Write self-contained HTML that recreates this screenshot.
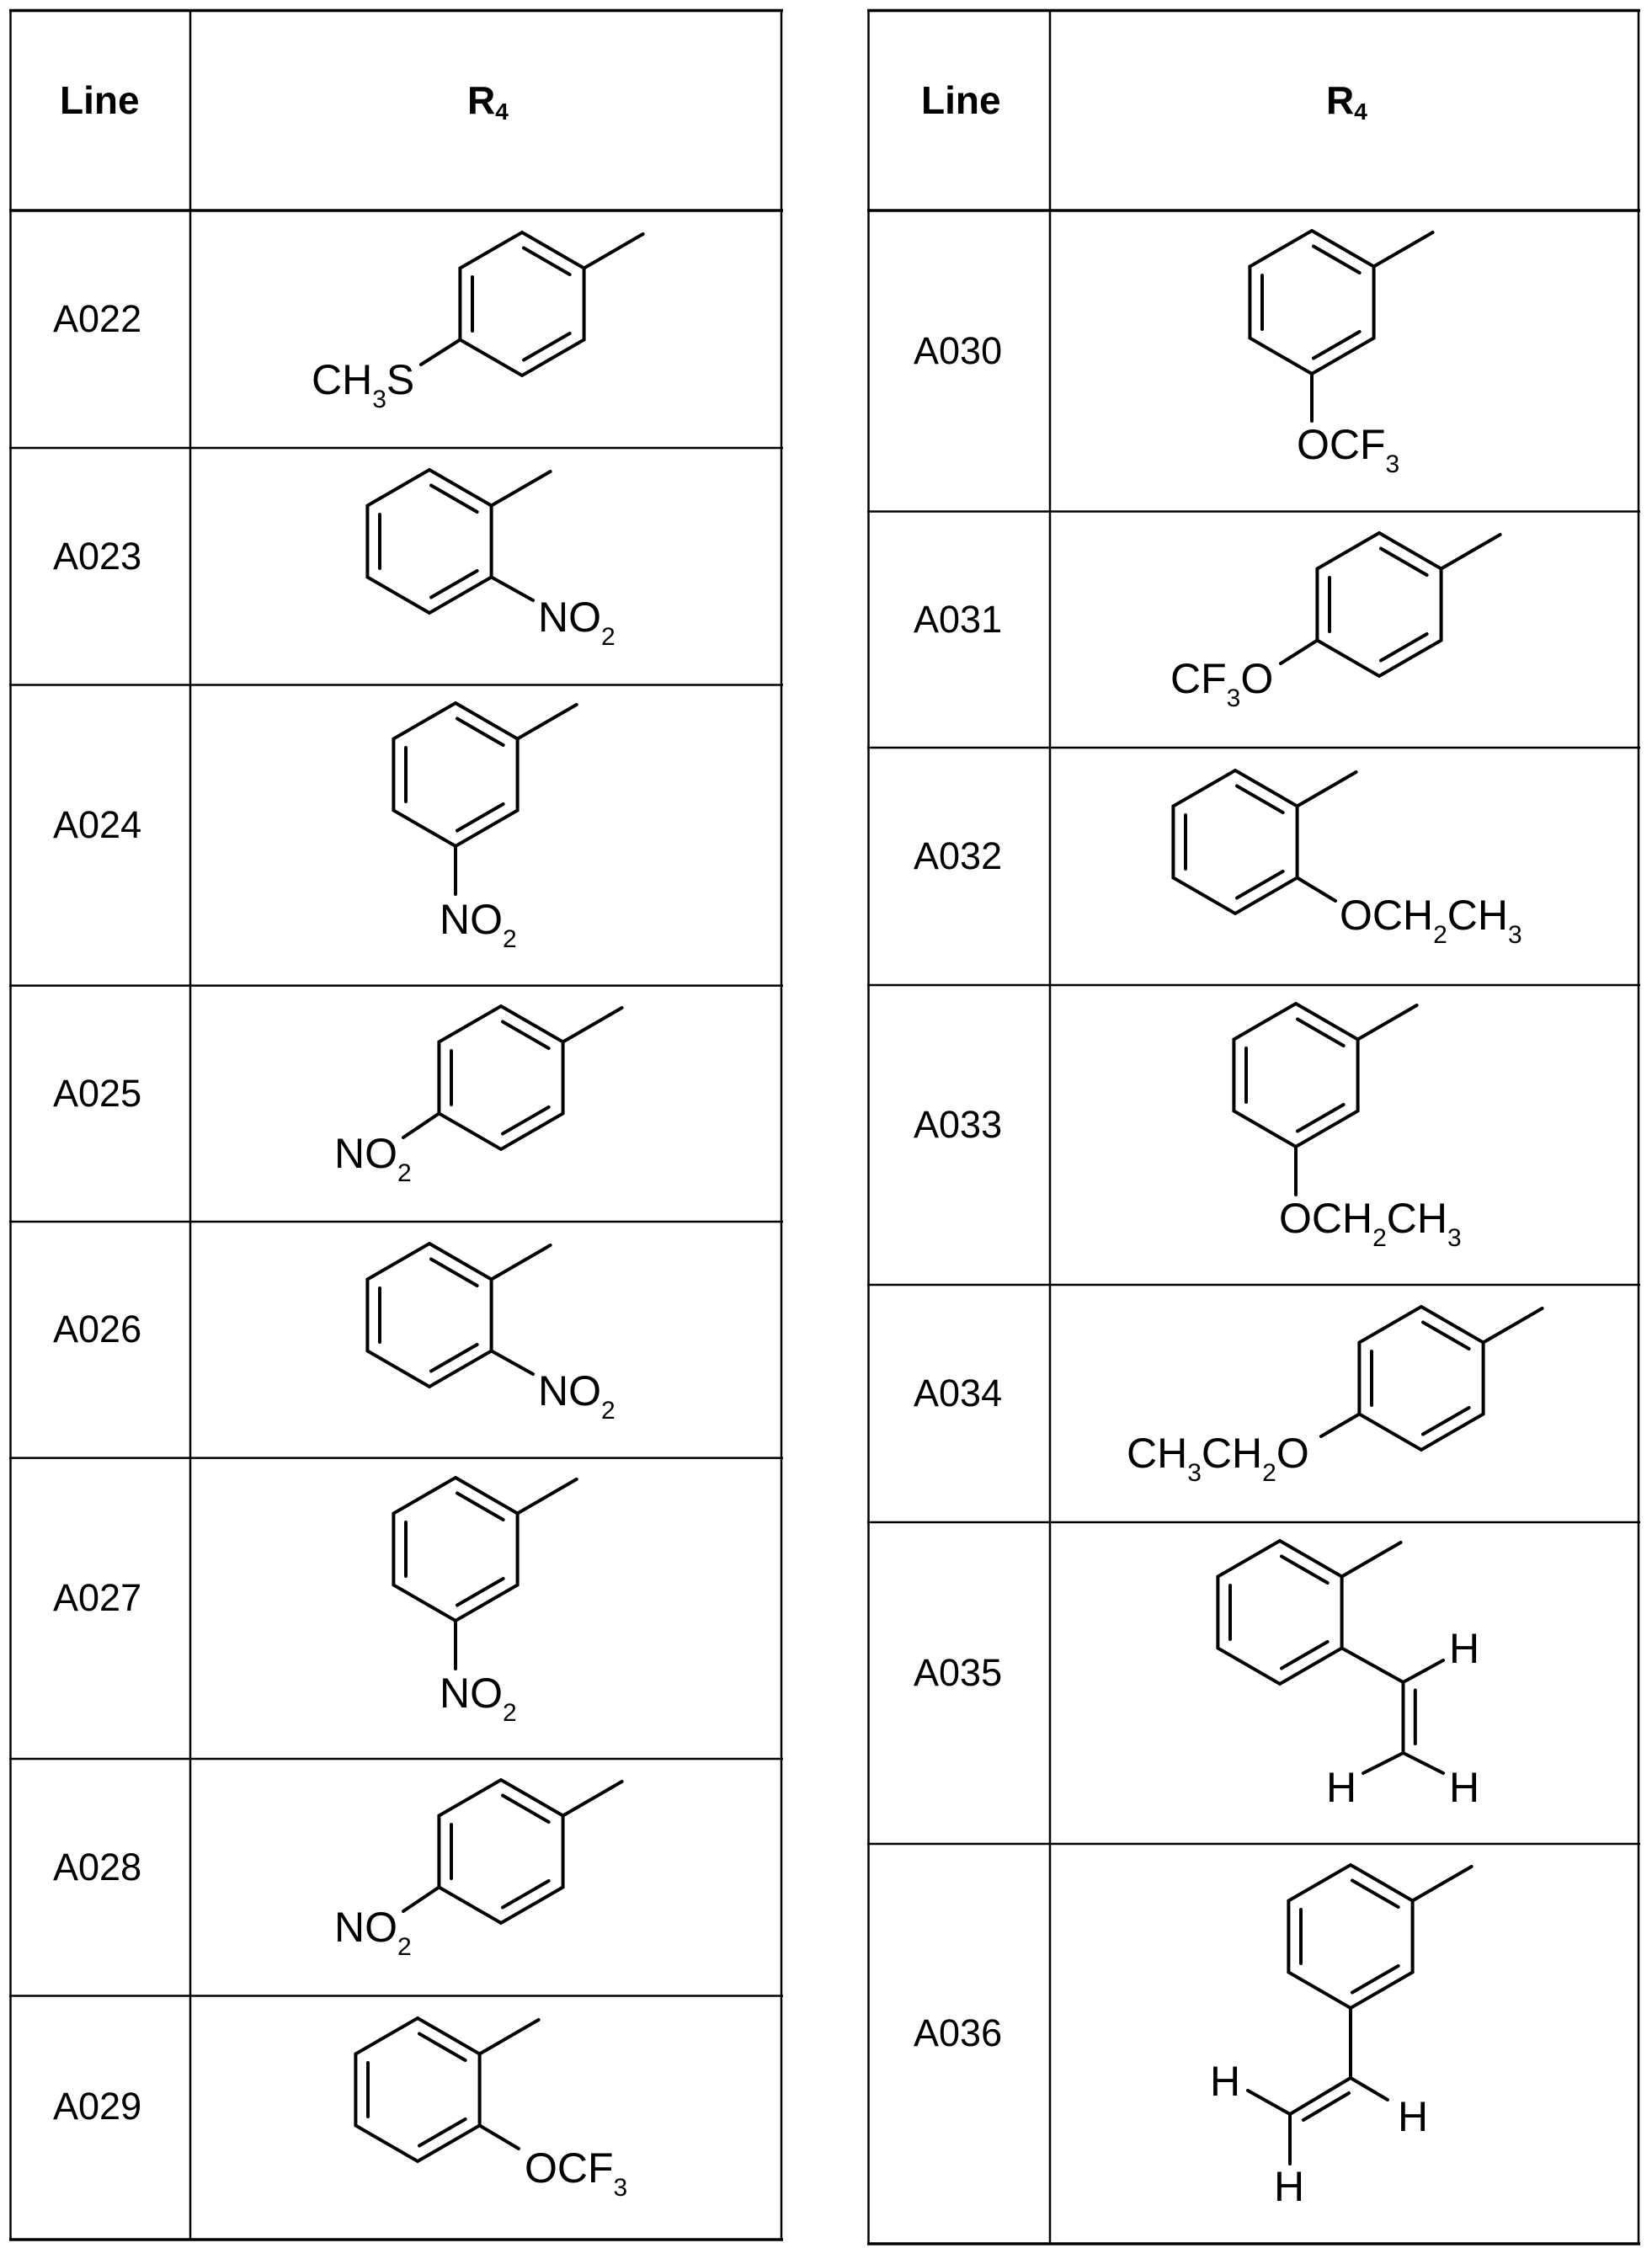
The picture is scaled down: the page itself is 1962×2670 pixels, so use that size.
<!DOCTYPE html>
<html><head><meta charset="utf-8"><style>
html,body{margin:0;padding:0;background:#fff;}
svg{display:block;}
text{font-family:"Liberation Sans",Arial,sans-serif;fill:#000;}
</style></head><body>
<svg width="1962" height="2670" viewBox="0 0 1962 2670" xmlns="http://www.w3.org/2000/svg">
<defs>
<g id="ring" fill="none" stroke="#000" stroke-width="4" stroke-linejoin="miter" stroke-linecap="round">
<path d="M0,-85 L73.6,-42.5 L73.6,42.5 L0,85 L-73.6,42.5 L-73.6,-42.5 Z"/>
<path d="M73.6,-42.5 L143.6,-83"/>
<path d="M-59,-32 L-59,32"/>
<path d="M2,-66.5 L56.6,-35"/>
<path d="M56.6,35 L2,66.5"/>
</g>
</defs>
<rect width="1962" height="2670" fill="#fff"/>
<g stroke="#000" fill="none">
<!-- left table -->
<g stroke-width="3.5">
<line x1="11" y1="12.5" x2="930" y2="12.5"/>
<line x1="11" y1="250" x2="930" y2="250"/>
<line x1="11" y1="2660" x2="930" y2="2660"/>
</g>
<g stroke-width="2.5">
<line x1="11" y1="532" x2="930" y2="532"/>
<line x1="11" y1="813.5" x2="930" y2="813.5"/>
<line x1="11" y1="1170.6" x2="930" y2="1170.6"/>
<line x1="11" y1="1451" x2="930" y2="1451"/>
<line x1="11" y1="1731.6" x2="930" y2="1731.6"/>
<line x1="11" y1="2089" x2="930" y2="2089"/>
<line x1="11" y1="2370.5" x2="930" y2="2370.5"/>
<line x1="12.5" y1="11" x2="12.5" y2="2661"/>
<line x1="226" y1="11" x2="226" y2="2661"/>
<line x1="928" y1="11" x2="928" y2="2661"/>
</g>
<!-- right table -->
<g stroke-width="3.5">
<line x1="1030" y1="12.5" x2="1948" y2="12.5"/>
<line x1="1030" y1="250" x2="1948" y2="250"/>
<line x1="1030" y1="2665" x2="1948" y2="2665"/>
</g>
<g stroke-width="2.5">
<line x1="1030" y1="607.5" x2="1948" y2="607.5"/>
<line x1="1030" y1="888" x2="1948" y2="888"/>
<line x1="1030" y1="1170" x2="1948" y2="1170"/>
<line x1="1030" y1="1526" x2="1948" y2="1526"/>
<line x1="1030" y1="1808" x2="1948" y2="1808"/>
<line x1="1030" y1="2190" x2="1948" y2="2190"/>
<line x1="1031.5" y1="11" x2="1031.5" y2="2666"/>
<line x1="1247" y1="11" x2="1247" y2="2666"/>
<line x1="1946" y1="11" x2="1946" y2="2666"/>
</g>
</g>

<!-- headers -->
<text x="71" y="135" font-size="46" font-weight="bold">Line</text>
<text x="555" y="135" font-size="46" font-weight="bold">R<tspan font-size="28" dy="7">4</tspan></text>
<text x="1094" y="135" font-size="46" font-weight="bold">Line</text>
<text x="1575" y="135" font-size="46" font-weight="bold">R<tspan font-size="28" dy="7">4</tspan></text>

<!-- row labels -->
<g font-size="45">
<text x="63" y="394">A022</text>
<text x="63" y="676">A023</text>
<text x="63" y="995">A024</text>
<text x="63" y="1314">A025</text>
<text x="63" y="1594">A026</text>
<text x="63" y="1913">A027</text>
<text x="63" y="2233">A028</text>
<text x="63" y="2517">A029</text>
<text x="1085" y="432">A030</text>
<text x="1085" y="751">A031</text>
<text x="1085" y="1032">A032</text>
<text x="1085" y="1351">A033</text>
<text x="1085" y="1670">A034</text>
<text x="1085" y="2002">A035</text>
<text x="1085" y="2430">A036</text>
</g>

<!-- rings -->
<use href="#ring" x="620" y="361"/>
<use href="#ring" x="510" y="643"/>
<use href="#ring" x="541" y="920"/>
<use href="#ring" x="595" y="1280"/>
<use href="#ring" x="510" y="1562"/>
<use href="#ring" x="541" y="1840"/>
<use href="#ring" x="595" y="2199"/>
<use href="#ring" x="496" y="2482"/>
<use href="#ring" x="1558" y="359"/>
<use href="#ring" x="1638" y="718"/>
<use href="#ring" x="1467" y="1000"/>
<use href="#ring" x="1539" y="1277"/>
<use href="#ring" x="1688" y="1637"/>
<use href="#ring" x="1520" y="1915"/>
<use href="#ring" x="1604" y="2300"/>

<!-- substituent bonds -->
<g stroke="#000" stroke-width="4" stroke-linecap="round" fill="none">
<line x1="546.4" y1="403.5" x2="500" y2="433"/>
<line x1="583.6" y1="685.5" x2="633" y2="713"/>
<line x1="541" y1="1005" x2="541" y2="1062"/>
<line x1="521.4" y1="1322.5" x2="479" y2="1351"/>
<line x1="583.6" y1="1604.5" x2="633" y2="1632"/>
<line x1="541" y1="1925" x2="541" y2="1982"/>
<line x1="521.4" y1="2241.5" x2="479" y2="2270"/>
<line x1="569.6" y1="2524.5" x2="616" y2="2552"/>
<line x1="1558" y1="444" x2="1558" y2="500"/>
<line x1="1564.4" y1="760.5" x2="1521" y2="788"/>
<line x1="1540.6" y1="1042.5" x2="1586" y2="1070"/>
<line x1="1539" y1="1362" x2="1539" y2="1419"/>
<line x1="1614.4" y1="1679.5" x2="1569" y2="1706"/>
<!-- A035 vinyl -->
<line x1="1593.6" y1="1957.5" x2="1666.5" y2="1998"/>
<line x1="1666.5" y1="1998" x2="1666.5" y2="2082"/>
<line x1="1680.8" y1="2007.5" x2="1680.8" y2="2071"/>
<line x1="1666.5" y1="1998" x2="1714" y2="1972"/>
<line x1="1666.5" y1="2082" x2="1619" y2="2106"/>
<line x1="1666.5" y1="2082" x2="1714" y2="2106"/>
<!-- A036 vinyl -->
<line x1="1604" y1="2385" x2="1604" y2="2468"/>
<line x1="1604" y1="2468" x2="1532" y2="2511"/>
<line x1="1548" y1="2518" x2="1602" y2="2486"/>
<line x1="1604" y1="2468" x2="1648" y2="2494"/>
<line x1="1532" y1="2511" x2="1482" y2="2483"/>
<line x1="1532" y1="2511" x2="1532" y2="2570"/>
</g>

<!-- chem labels -->
<g font-size="50">
<text x="370" y="468">CH<tspan font-size="30" dy="16">3</tspan><tspan dy="-16">S</tspan></text>
<text x="639" y="750">NO<tspan font-size="30" dy="16">2</tspan></text>
<text x="522" y="1109">NO<tspan font-size="30" dy="16">2</tspan></text>
<text x="397" y="1387">NO<tspan font-size="30" dy="16">2</tspan></text>
<text x="639" y="1669">NO<tspan font-size="30" dy="16">2</tspan></text>
<text x="522" y="2028">NO<tspan font-size="30" dy="16">2</tspan></text>
<text x="397" y="2306">NO<tspan font-size="30" dy="16">2</tspan></text>
<text x="623" y="2592">OCF<tspan font-size="30" dy="16">3</tspan></text>
<text x="1540" y="545">OCF<tspan font-size="30" dy="16">3</tspan></text>
<text x="1390" y="823">CF<tspan font-size="30" dy="16">3</tspan><tspan dy="-16">O</tspan></text>
<text x="1591" y="1104">OCH<tspan font-size="30" dy="16">2</tspan><tspan dy="-16">CH</tspan><tspan font-size="30" dy="16">3</tspan></text>
<text x="1519" y="1464">OCH<tspan font-size="30" dy="16">2</tspan><tspan dy="-16">CH</tspan><tspan font-size="30" dy="16">3</tspan></text>
<text x="1338" y="1743">CH<tspan font-size="30" dy="16">3</tspan><tspan dy="-16">CH</tspan><tspan font-size="30" dy="16">2</tspan><tspan dy="-16">O</tspan></text>
<text x="1721" y="1975">H</text>
<text x="1575" y="2140">H</text>
<text x="1721" y="2140">H</text>
<text x="1660" y="2531">H</text>
<text x="1437" y="2489">H</text>
<text x="1513" y="2614">H</text>
</g>
</svg>
</body></html>
